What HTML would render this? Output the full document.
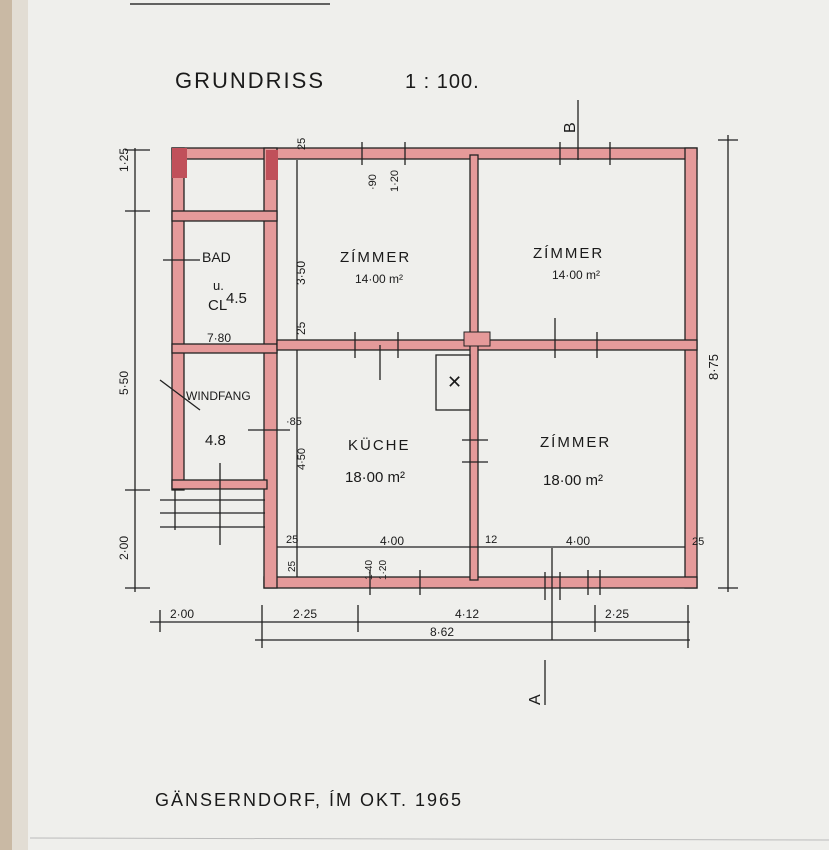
<!DOCTYPE html>
<html><head><meta charset="utf-8"><style>
html,body{margin:0;padding:0;background:#efefec;}
svg{display:block;}
text{font-family:"Liberation Sans",sans-serif;fill:#1a1a1a;}
</style></head><body>
<svg width="829" height="850" viewBox="0 0 829 850" xmlns="http://www.w3.org/2000/svg">
<rect width="829" height="850" fill="#efefec"/>
<rect x="0" y="0" width="28" height="850" fill="#c9b9a4"/>
<rect x="12" y="0" width="16" height="850" fill="#e2ddd4"/>
<line x1="130" y1="4" x2="330" y2="4" stroke="#333" stroke-width="1.5"/>
<line x1="30" y1="838" x2="829" y2="840" stroke="#bbb" stroke-width="1"/>

<g fill="#e59a9a" stroke="#222" stroke-width="1.3">
<!-- top wall -->
<rect x="172" y="148" width="525" height="11"/>
<!-- right wall -->
<rect x="685" y="148" width="12" height="440"/>
<!-- bottom wall -->
<rect x="264" y="577" width="433" height="11"/>
<!-- main left wall -->
<rect x="264" y="148" width="13" height="440"/>
<!-- annex left -->
<rect x="172" y="148" width="12" height="342"/>
<!-- annex horizontals -->
<rect x="172" y="211" width="105" height="10"/>
<rect x="172" y="344" width="105" height="9"/>
<rect x="172" y="480" width="95" height="9"/>
<!-- middle horizontal -->
<rect x="277" y="340" width="420" height="10"/>
<!-- central vertical -->
<rect x="470" y="155" width="8" height="425"/>
</g>
<rect x="172" y="148" width="15" height="30" fill="#c0505a"/>
<rect x="266" y="150" width="12" height="30" fill="#c0505a"/>
<!-- chimney -->
<rect x="464" y="332" width="26" height="14" fill="#e59a9a" stroke="#222"/>
<rect x="436" y="355" width="34" height="55" fill="none" stroke="#222" stroke-width="1.3"/>
<text x="447" y="388" font-size="18">✕</text>

<!-- inner lines -->
<g stroke="#222" stroke-width="1.3" fill="none">
<line x1="297" y1="160" x2="297" y2="340"/>
<line x1="297" y1="350" x2="297" y2="577"/>
<line x1="277" y1="547" x2="685" y2="547"/>
<!-- dims right -->
<line x1="728" y1="135" x2="728" y2="592"/>
<line x1="718" y1="140" x2="738" y2="140"/><line x1="718" y1="588" x2="738" y2="588"/>
<!-- left dims -->
<line x1="135" y1="148" x2="135" y2="592"/>
<line x1="125" y1="150" x2="150" y2="150"/><line x1="125" y1="211" x2="150" y2="211"/>
<line x1="125" y1="490" x2="150" y2="490"/><line x1="125" y1="588" x2="150" y2="588"/>
<!-- bottom dims -->
<line x1="150" y1="622" x2="690" y2="622"/>
<line x1="255" y1="640" x2="690" y2="640"/>
<line x1="160" y1="610" x2="160" y2="632"/><line x1="262" y1="605" x2="262" y2="648"/>
<line x1="358" y1="605" x2="358" y2="632"/><line x1="595" y1="605" x2="595" y2="632"/>
<line x1="688" y1="605" x2="688" y2="648"/>
<!-- section line -->
<line x1="552" y1="548" x2="552" y2="640"/>
<line x1="545" y1="572" x2="545" y2="600"/><line x1="560" y1="572" x2="560" y2="600"/>
<line x1="545" y1="660" x2="545" y2="705"/>
<line x1="578" y1="100" x2="578" y2="160"/>
<!-- window ticks -->
<line x1="362" y1="142" x2="362" y2="165"/><line x1="405" y1="142" x2="405" y2="165"/>
<line x1="560" y1="142" x2="560" y2="165"/><line x1="610" y1="142" x2="610" y2="165"/>
<line x1="355" y1="332" x2="355" y2="358"/><line x1="398" y1="332" x2="398" y2="358"/>
<line x1="555" y1="318" x2="555" y2="358"/><line x1="597" y1="332" x2="597" y2="358"/>
<line x1="370" y1="570" x2="370" y2="595"/><line x1="420" y1="570" x2="420" y2="595"/>
<line x1="588" y1="570" x2="588" y2="595"/><line x1="600" y1="570" x2="600" y2="595"/>
<line x1="163" y1="260" x2="200" y2="260"/><line x1="160" y1="380" x2="200" y2="410"/>
<line x1="248" y1="430" x2="290" y2="430"/>
<line x1="160" y1="500" x2="265" y2="500"/><line x1="160" y1="513" x2="265" y2="513"/>
<line x1="160" y1="527" x2="265" y2="527"/>
<line x1="175" y1="490" x2="175" y2="530"/>
<line x1="220" y1="463" x2="220" y2="545"/>
<line x1="462" y1="440" x2="488" y2="440"/><line x1="462" y1="462" x2="488" y2="462"/>
<line x1="380" y1="345" x2="380" y2="380"/>
</g>

<text x="175" y="88" font-size="22" letter-spacing="2">GRUNDRISS</text>
<text x="405" y="88" font-size="20" letter-spacing="1">1 : 100.</text>
<text x="340" y="262" font-size="15" letter-spacing="2">ZÍMMER</text>
<text x="355" y="283" font-size="12">14·00 m²</text>
<text x="533" y="258" font-size="15" letter-spacing="2">ZÍMMER</text>
<text x="552" y="279" font-size="12">14·00 m²</text>
<text x="348" y="450" font-size="15" letter-spacing="2">KÜCHE</text>
<text x="345" y="482" font-size="15">18·00 m²</text>
<text x="540" y="447" font-size="15" letter-spacing="2">ZÍMMER</text>
<text x="543" y="485" font-size="15">18·00 m²</text>
<text x="202" y="262" font-size="14">BAD</text>
<text x="213" y="290" font-size="13">u.</text>
<text x="208" y="310" font-size="15">CL</text>
<text x="226" y="303" font-size="15" fill="#777">4.5</text>
<text x="207" y="342" font-size="12">7·80</text>
<text x="186" y="400" font-size="12">WINDFANG</text>
<text x="205" y="445" font-size="15" fill="#777">4.8</text>
<text x="286" y="425" font-size="11">·85</text>
<text x="380" y="545" font-size="12">4·00</text>
<text x="566" y="545" font-size="12">4·00</text>
<text x="485" y="543" font-size="11">12</text>
<text x="286" y="543" font-size="11">25</text>
<text x="692" y="545" font-size="11">25</text>
<text x="170" y="618" font-size="12">2·00</text>
<text x="293" y="618" font-size="12">2·25</text>
<text x="455" y="618" font-size="12">4·12</text>
<text x="605" y="618" font-size="12">2·25</text>
<text x="430" y="636" font-size="12">8·62</text>
<text x="155" y="806" font-size="18" letter-spacing="2">GÄNSERNDORF, ÍM OKT. 1965</text>
<text transform="translate(128,172) rotate(-90)" font-size="12">1·25</text>
<text transform="translate(128,395) rotate(-90)" font-size="12">5·50</text>
<text transform="translate(128,560) rotate(-90)" font-size="12">2·00</text>
<text transform="translate(718,380) rotate(-90)" font-size="13">8·75</text>
<text transform="translate(305,285) rotate(-90)" font-size="12">3·50</text>
<text transform="translate(305,335) rotate(-90)" font-size="12">25</text>
<text transform="translate(305,470) rotate(-90)" font-size="11">4·50</text>
<text transform="translate(305,150) rotate(-90)" font-size="11">25</text>
<text transform="translate(376,190) rotate(-90)" font-size="11">·90</text>
<text transform="translate(398,192) rotate(-90)" font-size="11">1·20</text>
<text transform="translate(372,580) rotate(-90)" font-size="10">1·40</text>
<text transform="translate(386,580) rotate(-90)" font-size="10">1·20</text>
<text transform="translate(295,572) rotate(-90)" font-size="10">25</text>
<text transform="translate(575,133) rotate(-90)" font-size="16">B</text>
<text transform="translate(540,705) rotate(-90)" font-size="16">A</text>
</svg>
</body></html>
